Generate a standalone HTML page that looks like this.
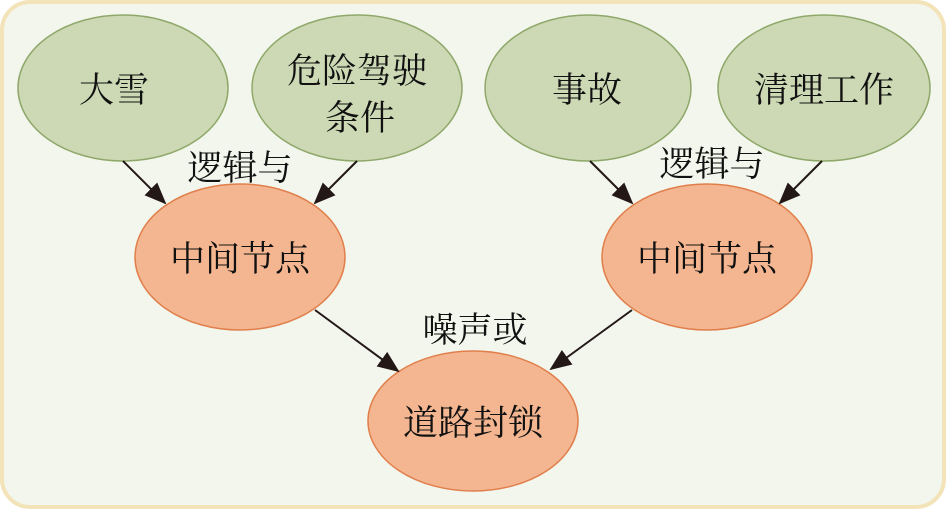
<!DOCTYPE html>
<html><head><meta charset="utf-8"><style>
html,body{margin:0;padding:0;width:946px;height:509px;overflow:hidden;background:#fff}
</style></head><body>
<svg width="946" height="509" xmlns="http://www.w3.org/2000/svg" font-family="'Liberation Serif','Noto Serif CJK SC',serif" font-size="35">
<defs><marker id="a" markerWidth="10" markerHeight="10" refX="9" refY="5" orient="auto" markerUnits="userSpaceOnUse" viewBox="0 0 10 10"><path d="M0,0 L10,5 L0,10 z" fill="#231815"/></marker>
<marker id="b" markerWidth="22" markerHeight="22" refX="20" refY="11" orient="auto" markerUnits="userSpaceOnUse" viewBox="0 0 22 22"><path d="M0,2 L22,11 L0,20 z" fill="#231815"/></marker></defs>
<rect x="2" y="2" width="942" height="505" rx="28" fill="#f3f6ec" stroke="#f3e3b8" stroke-width="4"/>
<g fill="#cdd9b5" stroke="#8fa86a" stroke-width="1.5">
<ellipse cx="123" cy="88" rx="105" ry="73"/>
<ellipse cx="357" cy="88" rx="105" ry="73"/>
<ellipse cx="588" cy="88" rx="103" ry="73"/>
<ellipse cx="824" cy="88" rx="106" ry="73"/>
</g>
<g fill="#f3b690" stroke="#e07f4c" stroke-width="1.5">
<ellipse cx="240" cy="257" rx="105" ry="73"/>
<ellipse cx="707" cy="257" rx="105" ry="73"/>
<ellipse cx="473" cy="421" rx="105" ry="70"/>
</g>
<g stroke="#231815" stroke-width="2" marker-end="url(#b)">
<line x1="123" y1="161" x2="165" y2="203"/>
<line x1="357" y1="161" x2="315" y2="203"/>
<line x1="590" y1="161" x2="632" y2="203"/>
<line x1="822" y1="161" x2="780" y2="203"/>
<line x1="315" y1="310" x2="398" y2="371"/>
<line x1="632" y1="310" x2="551" y2="369"/>
</g>
<g fill="#111" text-anchor="middle">
<text x="114" y="102">大雪</text>
<text x="357" y="83">危险驾驶</text>
<text x="360" y="130">条件</text>
<text x="587" y="102">事故</text>
<text x="824" y="102">清理工作</text>
<text x="240" y="180">逻辑与</text>
<text x="712" y="176">逻辑与</text>
<text x="240" y="271">中间节点</text>
<text x="707" y="271">中间节点</text>
<text x="475" y="342">噪声或</text>
<text x="473" y="435">道路封锁</text>
</g>
</svg>
</body></html>
